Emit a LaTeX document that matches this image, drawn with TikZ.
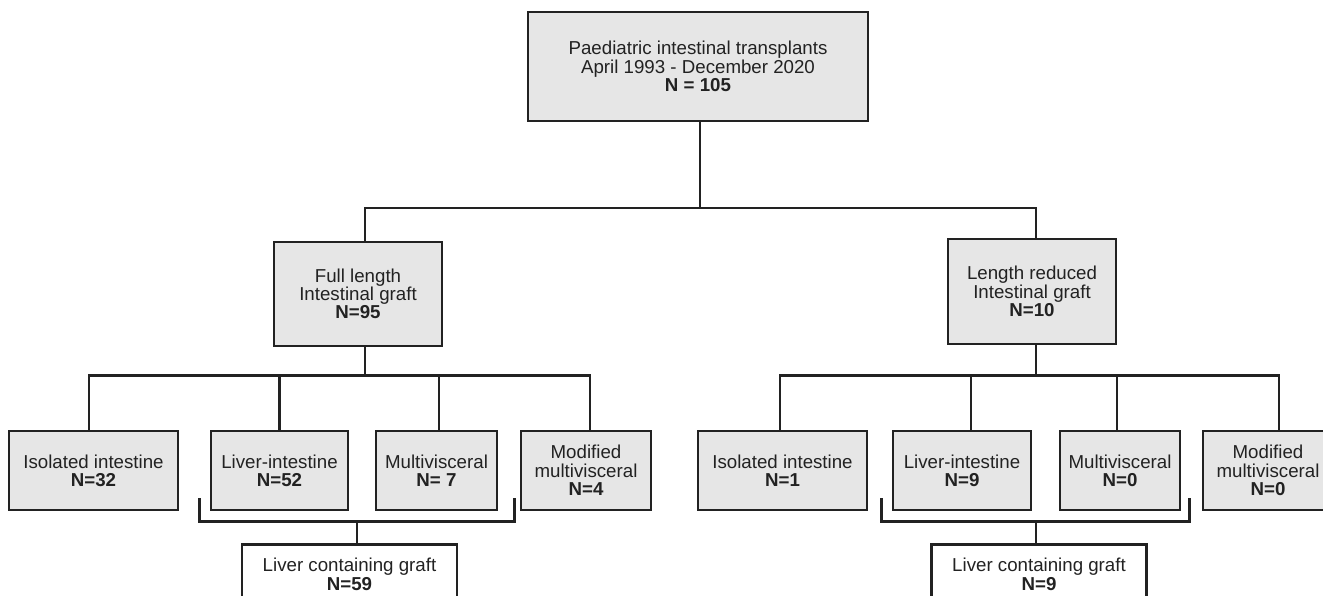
\documentclass[tikz,border=0pt]{standalone}
\usepackage{fontspec}
\setmainfont{Liberation Sans}
\definecolor{boxfill}{HTML}{E6E6E6}
\definecolor{linec}{HTML}{222222}
\begin{document}
\begin{tikzpicture}[x=1pt,y=-1pt,
  box/.style={draw=linec, fill=boxfill, line width=2.8pt, align=center, inner sep=0pt,
    font=\fontsize{18.7}{18.3}\selectfont, text=linec},
  wbox/.style={box, fill=white},
  conn/.style={draw=linec, line width=2.3pt}]
\clip (0,0) rectangle (1323,596);
\fill[white] (0,0) rectangle (1323,596);
% top
\node[box, minimum width=340pt, minimum height=109pt] (top) at (698,66.5)
  {Paediatric intestinal transplants\\April 1993 - December 2020\\\textbf{N = 105}};
% second level
\node[box, minimum width=168pt, minimum height=104pt] (full) at (358,294)
  {Full length\\Intestinal graft\\\textbf{N=95}};
\node[box, minimum width=168pt, minimum height=105pt] (red) at (1032,291.5)
  {Length reduced\\Intestinal graft\\\textbf{N=10}};
% bottom left
\node[box, minimum width=169pt, minimum height=79pt] (isoL) at (93.5,470.5)
  {Isolated intestine\\\textbf{N=32}};
\node[box, minimum width=137pt, minimum height=79pt] (livL) at (279.5,470.5)
  {Liver-intestine\\\textbf{N=52}};
\node[box, minimum width=121pt, minimum height=79pt] (mulL) at (436.5,470.5)
  {Multivisceral\\\textbf{N= 7}};
\node[box, minimum width=130pt, minimum height=79pt] (modL) at (586,470.5)
  {Modified\\multivisceral\\\textbf{N=4}};
% bottom right
\node[box, minimum width=169pt, minimum height=79pt] (isoR) at (782.5,470.5)
  {Isolated intestine\\\textbf{N=1}};
\node[box, minimum width=138pt, minimum height=79pt] (livR) at (962,470.5)
  {Liver-intestine\\\textbf{N=9}};
\node[box, minimum width=120pt, minimum height=79pt] (mulR) at (1120,470.5)
  {Multivisceral\\\textbf{N=0}};
\node[box, minimum width=130pt, minimum height=79pt] (modR) at (1268,470.5)
  {Modified\\multivisceral\\\textbf{N=0}};
% liver containing
\node[wbox, minimum width=215pt, minimum height=60pt, anchor=north] (lcL) at (349.5,543)
  {Liver containing graft\\\textbf{N=59}};
\node[wbox, minimum width=215pt, minimum height=60pt, anchor=north] (lcR) at (1039,543)
  {Liver containing graft\\\textbf{N=9}};
% connectors
\coordinate (j0) at (700,208);
\draw[conn] ([xshift=2pt]top.south) -- ([xshift=2pt]top.south |- j0);
\draw[conn] ([xshift=7pt]full.north) |- (j0) -| ([xshift=4pt]red.north);
\draw[conn] ([xshift=7pt]full.south) -- ++(0,28) coordinate (jL);
\draw[conn] ([xshift=-4.5pt]isoL.north) |- (jL) -| ([xshift=4pt]modL.north);
\draw[conn] (livL.north) -- (livL.north |- jL);
\draw[conn] ([xshift=2.5pt]mulL.north) -- ([xshift=2.5pt]mulL.north |- jL);
\draw[conn] ([xshift=4pt]red.south) -- ++(0,30) coordinate (jR);
\draw[conn] ([xshift=-2.5pt]isoR.north) |- (jR) -| ([xshift=11pt]modR.north);
\draw[conn] ([xshift=9pt]livR.north) -- ([xshift=9pt]livR.north |- jR);
\draw[conn] ([xshift=-3pt]mulR.north) -- ([xshift=-3pt]mulR.north |- jR);
% brackets
\draw[conn] ([xshift=-10pt,yshift=13pt]livL.south west) -- ++(0,23) -| ([xshift=16pt,yshift=13pt]mulL.south east);
\draw[conn] ([xshift=7.5pt]lcL.north) -- ++(0,-23);
\draw[conn] ([xshift=-10pt,yshift=13pt]livR.south west) -- ++(0,23) -| ([xshift=8pt,yshift=13pt]mulR.south east);
\draw[conn] ([xshift=-3pt]lcR.north) -- ++(0,-23);
\end{tikzpicture}
\end{document}
